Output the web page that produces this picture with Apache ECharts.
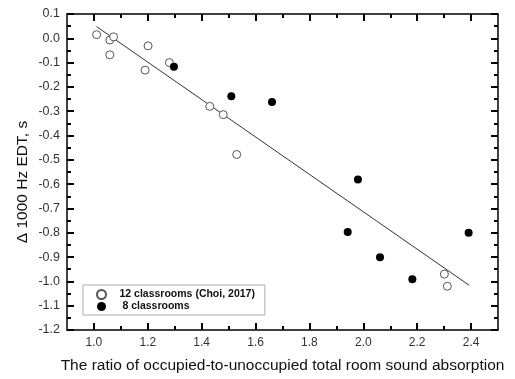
<!DOCTYPE html>
<html>
<head>
<meta charset="utf-8">
<script src="https://cdn.jsdelivr.net/npm/echarts@6/dist/echarts.min.js"></script>
<style>html,body{margin:0;padding:0;background:#fff}#c{width:515px;height:379px}</style>
</head>
<body>
<div id="c"></div>
<script>
// Data
const openX = [1.010, 1.059, 1.073, 1.059, 1.201, 1.190, 1.280, 1.430, 1.480, 1.530, 2.301, 2.312];
const openY = [0.015, -0.007, 0.006, -0.068, -0.031, -0.131, -0.100, -0.280, -0.314, -0.478, -0.970, -1.020];
const filledX = [1.297, 1.510, 1.661, 1.980, 1.942, 2.062, 2.182, 2.391];
const filledY = [-0.117, -0.238, -0.262, -0.581, -0.797, -0.901, -0.991, -0.800];
const fitX = [1.010, 2.393];
const fitY = [0.048, -1.016];
const xMajorTicks = [1.0, 1.2, 1.4, 1.6, 1.8, 2.0, 2.2, 2.4];
const xMinorTicks = [1.1, 1.3, 1.5, 1.7, 1.9, 2.1, 2.3];
const seriesNames = ['12 classrooms (Choi, 2017)', ' 8 classrooms'];
const xName = 'The ratio of occupied-to-unoccupied total room sound absorption';
const yName = '\u0394 1000 Hz EDT, s';

const font = '"Liberation Sans", Arial, sans-serif';
const zip = (a, b) => a.map((v, i) => [v, b[i]]);

function xAx(pos, major, withLine, extra) {
  return Object.assign({
    type: 'value', min: 0.9, max: 2.5, position: pos, splitLine: {show: false},
    axisLine: {show: withLine, onZero: false, lineStyle: {color: '#000', width: 1.5}},
    axisTick: {show: true, inside: true, length: major ? 7 : 4,
      customValues: major ? xMajorTicks : xMinorTicks,
      lineStyle: {color: '#000', width: 2}},
    axisLabel: {show: false}
  }, extra || {});
}
function yAx(pos, extra) {
  return Object.assign({
    type: 'value', position: pos, min: -1.2, max: 0.1, interval: 0.1,
    splitLine: {show: false},
    axisLine: {show: true, onZero: false, lineStyle: {color: '#000', width: 1.5}},
    axisTick: {show: true, inside: true, length: 7, lineStyle: {color: '#000', width: 2}},
    minorTick: {show: true, splitNumber: 2, length: 4, lineStyle: {color: '#000', width: 2}},
    axisLabel: {show: false}
  }, extra || {});
}

const chart = echarts.init(document.getElementById('c'));
chart.setOption({
  animation: false,
  backgroundColor: '#fff',
  grid: {left: 67, right: 17, top: 14, bottom: 48},
  xAxis: [
    xAx('bottom', true, true, {
      axisLabel: {show: true, margin: 7, customValues: xMajorTicks, formatter: v => v.toFixed(1),
        color: '#333', fontSize: 12, fontFamily: font},
      name: xName, nameLocation: 'middle', nameGap: 28,
      nameTextStyle: {color: '#111', fontSize: 15.5, fontFamily: font}
    }),
    xAx('bottom', false, false),
    xAx('top', true, true),
    xAx('top', false, false)
  ],
  yAxis: [
    yAx('left', {
      axisLabel: {show: true, margin: 7, formatter: v => v.toFixed(1), color: '#333', fontSize: 12.5, fontFamily: font},
      name: yName, nameLocation: 'middle', nameGap: 36, nameMoveOverlap: false,
      nameTextStyle: {color: '#111', fontSize: 15.5, fontFamily: font, padding: [0, 20, 0, 0]}
    }),
    yAx('right')
  ],
  legend: {
    data: seriesNames,
    orient: 'vertical', left: 83, top: 285,
    padding: [4, 10, 3, 13], itemGap: 1,
    itemWidth: 26, itemHeight: 9,
    borderColor: '#aaa', borderWidth: 1, backgroundColor: '#fff',
    textStyle: {color: '#111', fontSize: 10.5, fontWeight: 'bold', lineHeight: 11, fontFamily: font}
  },
  series: [
    {
      name: 'fit', type: 'line', data: zip(fitX, fitY), symbol: 'none',
      lineStyle: {color: '#333', width: 1}, z: 1
    },
    {
      name: seriesNames[0], type: 'scatter', data: zip(openX, openY), symbol: 'circle', symbolSize: 8,
      itemStyle: {color: '#fff', borderColor: '#555', borderWidth: 1, opacity: 1}, z: 3
    },
    {
      name: seriesNames[1], type: 'scatter', data: zip(filledX, filledY), symbol: 'circle', symbolSize: 8,
      itemStyle: {color: '#000', opacity: 1}, z: 3
    }
  ]
});
</script>
</body>
</html>
